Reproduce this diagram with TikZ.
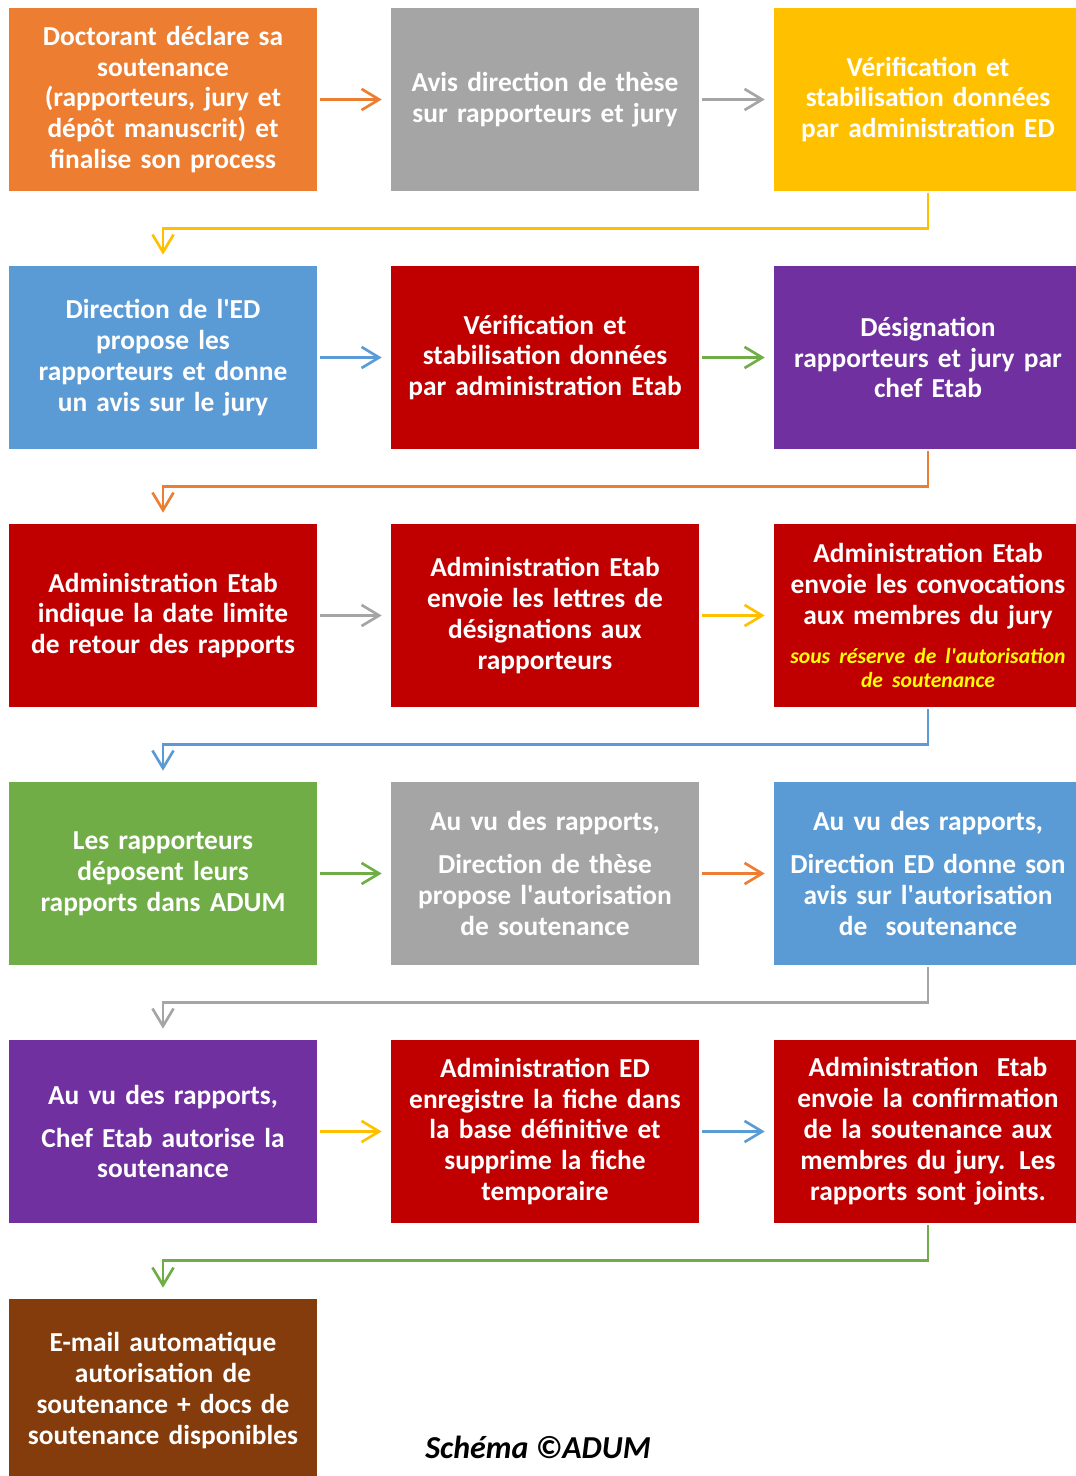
\documentclass[tikz,border=0pt]{standalone}
\usepackage{fontspec}
\setmainfont{Carlito}
\usetikzlibrary{arrows.meta,positioning}
\definecolor{StepOrange}{HTML}{ED7D31}
\definecolor{StepGray}{HTML}{A5A5A5}
\definecolor{StepGold}{HTML}{FFC000}
\definecolor{StepBlue}{HTML}{5B9BD5}
\definecolor{StepRed}{HTML}{C00000}
\definecolor{StepPurple}{HTML}{7030A0}
\definecolor{StepGreen}{HTML}{70AD47}
\definecolor{StepBrown}{HTML}{843C0C}
\definecolor{NoteYellow}{HTML}{FFFF00}

\begin{document}
\begin{tikzpicture}[
    x=0.02cm,y=-0.02cm,
    sbox/.style={rectangle,fill=#1,minimum width=6.16cm,minimum height=3.66cm,
      text width=5.9cm,align=center,inner sep=0pt,text=white,
      font=\fontsize{15.6}{17.6}\selectfont\bfseries},
    flow/.style={draw=#1,line width=1.5pt,-{Straight Barb[length=10pt,width=12pt]},
      shorten <=0.06cm,shorten >=0.18cm},
    turn/.style={draw=#1,line width=1.5pt,-{Straight Barb[length=10pt,width=12pt]},
      shorten <=0.04cm,shorten >=0.22cm}
  ]
  \useasboundingbox (0,0) rectangle (1075,1476);
  % Row 1
  \node[sbox=StepOrange] (decl) at (163,99.5) {Doctorant déclare sa\\soutenance\\(rapporteurs, jury et\\dépôt manuscrit) et\\finalise son process};
  \node[sbox=StepGray] (avisdir) at (545,99.5) {Avis direction de thèse\\sur rapporteurs et jury};
  \node[sbox=StepGold] (verifed) at (928,99.5) {Vérification et\\stabilisation données\\par administration ED};
  % Row 2
  \node[sbox=StepBlue] (direds) at (163,357.5) {Direction de l\textquotesingle ED\\propose les\\rapporteurs et donne\\un avis sur le jury};
  \node[sbox=StepRed] (verifetab) at (545,357.5) {Vérification et\\stabilisation données\\par administration Etab};
  \node[sbox=StepPurple] (design) at (928,357.5) {Désignation\\rapporteurs et jury par\\chef Etab};
  % Row 3
  \node[sbox=StepRed] (datelim) at (163,615.5) {Administration Etab\\indique la date limite\\de retour des rapports};
  \node[sbox=StepRed] (lettres) at (545,615.5) {Administration Etab\\envoie les lettres de\\désignations aux\\rapporteurs};
  \node[sbox=StepRed] (convoc) at (928,615.5) {Administration Etab\\envoie les convocations\\aux membres du jury\\[8pt]
    \fontsize{12.3}{14.2}\selectfont\itshape\color{NoteYellow}sous réserve de l\textquotesingle autorisation\\[-3.4pt]de soutenance};
  % Row 4
  \node[sbox=StepGreen] (depot) at (163,873.5) {Les rapporteurs\\déposent leurs\\rapports dans ADUM};
  \node[sbox=StepGray] (autdir) at (545,873.5) {Au vu des rapports,\\[6.8pt]Direction de thèse\\propose l\textquotesingle autorisation\\de soutenance};
  \node[sbox=StepBlue] (avised) at (928,873.5) {Au vu des rapports,\\[6.8pt]Direction ED donne son\\avis sur l\textquotesingle autorisation\\de~~soutenance};
  % Row 5
  \node[sbox=StepPurple] (autchef) at (163,1131.5) {Au vu des rapports,\\[6.8pt]Chef Etab autorise la\\soutenance};
  \node[sbox=StepRed] (enreg) at (545,1131.5) {Administration ED\\enregistre la fiche dans\\la base définitive et\\supprime la fiche\\temporaire};
  \node[sbox=StepRed] (confirm) at (928,1131.5) {Administration~~Etab\\envoie la confirmation\\de la soutenance aux\\membres du jury. Les\\rapports sont joints.};
  % Row 6
  \node[sbox=StepBrown] (email) at (163,1390.5) {E-mail automatique\\autorisation de\\soutenance + docs de\\soutenance disponibles};
  \node[font=\fontsize{18.2}{21}\selectfont\bfseries\itshape] (credit) at (538,1447) {Schéma ©ADUM};
  % Arrows in rows
  \draw[flow=StepOrange] (decl) -- (avisdir);
  \draw[flow=StepGray] (avisdir) -- (verifed);
  \draw[flow=StepBlue] (direds) -- (verifetab);
  \draw[flow=StepGreen] (verifetab) -- (design);
  \draw[flow=StepGray] (datelim) -- (lettres);
  \draw[flow=StepGold] (lettres) -- (convoc);
  \draw[flow=StepGreen] (depot) -- (autdir);
  \draw[flow=StepOrange] (autdir) -- (avised);
  \draw[flow=StepGold] (autchef) -- (enreg);
  \draw[flow=StepBlue] (enreg) -- (confirm);
  % Arrows between rows
  \draw[turn=StepGold] (verifed.south) -- ++(0,37) -| (direds.north);
  \draw[turn=StepOrange] (design.south) -- ++(0,37) -| (datelim.north);
  \draw[turn=StepBlue] (convoc.south) -- ++(0,37) -| (depot.north);
  \draw[turn=StepGray] (avised.south) -- ++(0,37) -| (autchef.north);
  \draw[turn=StepGreen] (confirm.south) -- ++(0,37) -| (email.north);
\end{tikzpicture}
\end{document}
